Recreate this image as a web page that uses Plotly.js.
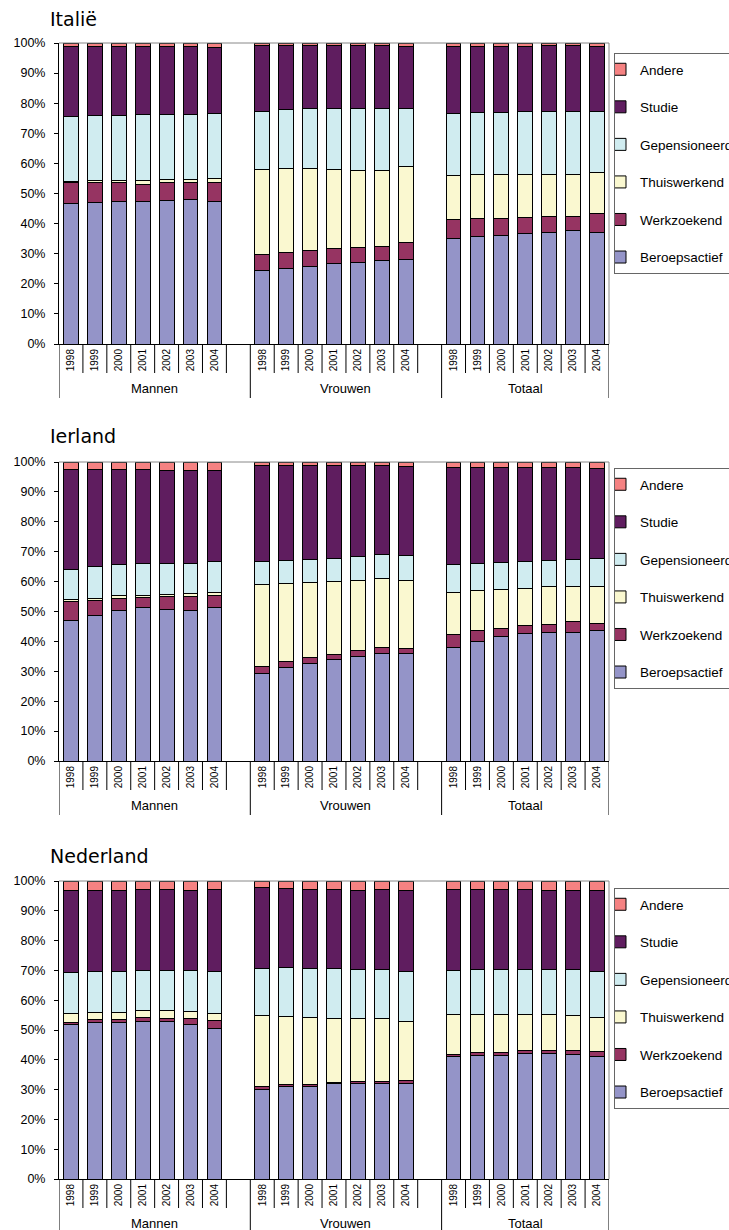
<!DOCTYPE html>
<html><head><meta charset="utf-8">
<script src="https://cdn.plot.ly/plotly-3.0.1.min.js"></script>
<style>html,body{margin:0;padding:0;background:#fff}#chart{width:729px;height:1230px}</style>
</head><body><div id="chart"></div>
<script>
// ---- data ----
const years = ['1998','1999','2000','2001','2002','2003','2004'];
const groups = ['Mannen','Vrouwen','Totaal'];
const seriesNames = ['Beroepsactief','Werkzoekend','Thuiswerkend','Gepensioneerd','Studie','Andere'];
const countries = ['Italië','Ierland','Nederland'];
const yTickVals = [0,10,20,30,40,50,60,70,80,90,100];
const yTickText = ['0%','10%','20%','30%','40%','50%','60%','70%','80%','90%','100%'];

// each array: Mannen 1998-2004, Vrouwen 1998-2004, Totaal 1998-2004 (percent)
const itBeroepsactief = [46.7,47.1,47.2,47.4,47.8,48.1,47.4, 24.4,25.1,25.6,26.6,27.2,27.7,28.0, 35.1,35.6,36.0,36.7,37.1,37.7,37.2];
const itWerkzoekend   = [7.0,6.5,6.4,5.7,5.8,5.5,6.2, 5.4,5.4,5.3,5.0,4.7,4.6,5.8, 6.2,6.1,5.8,5.3,5.3,4.8,6.2];
const itThuiswerkend  = [0.3,0.6,0.8,1.3,1.0,1.1,1.3, 28.2,27.7,27.3,26.4,25.9,25.4,25.2, 14.8,14.7,14.6,14.2,13.8,13.7,13.5];
const itGepensioneerd = [21.6,21.6,21.5,21.7,21.5,21.4,21.6, 19.3,19.7,19.9,20.1,20.3,20.4,19.2, 20.5,20.4,20.5,20.9,21.0,21.0,20.4];
const itStudie        = [23.3,23.1,23.0,22.8,22.8,22.8,22.0, 21.8,21.2,21.0,21.0,21.0,21.0,20.7, 22.2,22.1,22.0,21.8,21.9,21.9,21.4];
const itAndere        = [1.1,1.1,1.1,1.1,1.1,1.1,1.5, 0.9,0.9,0.9,0.9,0.9,0.9,1.1, 1.2,1.1,1.1,1.1,0.9,0.9,1.3];

const ieBeroepsactief = [47.0,48.8,50.5,51.4,50.8,50.2,51.2, 29.2,31.4,32.7,34.0,35.1,36.1,35.8, 38.1,40.1,41.5,42.6,42.9,43.0,43.5];
const ieWerkzoekend   = [6.2,4.9,3.9,3.4,4.2,4.9,4.0, 2.5,1.8,1.9,1.6,1.8,1.9,1.7, 4.2,3.4,2.9,2.6,2.9,3.5,2.5];
const ieThuiswerkend  = [0.8,0.7,0.8,0.7,0.7,1.0,1.0, 27.2,26.3,25.0,24.4,23.5,22.9,23.0, 14.1,13.6,13.0,12.5,12.4,11.9,12.3];
const ieGepensioneerd = [10.1,10.5,10.4,10.4,10.5,10.1,10.4, 7.9,7.7,7.8,7.8,8.0,8.1,8.1, 9.3,9.0,9.0,9.1,9.0,9.0,9.3];
const ieStudie        = [33.3,32.5,31.8,31.5,31.0,30.9,30.5, 32.0,31.6,31.4,31.0,30.4,29.8,30.0, 32.3,31.9,31.6,31.2,30.8,30.6,30.2];
const ieAndere        = [2.6,2.6,2.6,2.6,2.8,2.9,2.9, 1.2,1.2,1.2,1.2,1.2,1.2,1.4, 2.0,2.0,2.0,2.0,2.0,2.0,2.2];

const nlBeroepsactief = [51.9,52.6,52.5,53.0,52.8,51.9,50.6, 30.1,31.0,31.1,31.9,32.1,32.0,31.9, 41.0,41.6,41.5,42.2,42.2,41.7,41.1];
const nlWerkzoekend   = [0.7,0.9,1.0,1.1,1.2,1.8,2.5, 0.8,0.6,0.6,0.5,0.5,0.8,1.2, 0.7,0.9,1.0,0.9,1.0,1.5,1.8];
const nlThuiswerkend  = [3.1,2.5,2.5,2.3,2.4,2.4,2.6, 23.8,22.9,22.5,21.6,21.3,20.9,19.9, 13.5,12.7,12.7,12.0,11.9,11.7,11.3];
const nlGepensioneerd = [13.5,13.6,13.6,13.6,13.6,13.9,13.9, 16.1,16.4,16.4,16.6,16.4,16.6,16.6, 14.9,15.1,15.1,15.2,15.2,15.3,15.6];
const nlStudie        = [27.7,27.3,27.3,27.0,27.0,26.9,27.4, 27.0,26.6,26.7,26.5,26.6,26.7,27.2, 27.2,26.8,26.8,26.7,26.6,26.7,27.1];
const nlAndere        = [3.1,3.1,3.1,3.0,3.0,3.0,3.0, 2.2,2.5,2.7,2.9,3.1,3.0,3.2, 2.7,2.9,2.9,3.0,3.1,3.1,3.1];

const colors = ['#9494C8','#963462','#FAF8D0','#D0ECF0','#5F1D5F','#F58282'];

// ---- layout helpers ----
const W = 729, H = 1230;
const py = px => 1 - px / H;
const plotTop = [43, 462, 881];
const plotBot = [344, 761, 1179];
const legendTop = [53, 468, 888];
const titleY = [19, 436, 856];

const countryData = [
  [itBeroepsactief,itWerkzoekend,itThuiswerkend,itGepensioneerd,itStudie,itAndere],
  [ieBeroepsactief,ieWerkzoekend,ieThuiswerkend,ieGepensioneerd,ieStudie,ieAndere],
  [nlBeroepsactief,nlWerkzoekend,nlThuiswerkend,nlGepensioneerd,nlStudie,nlAndere]
];

// category slot positions: 7 years per group, one empty slot between groups
const slotX = [];
groups.forEach((g, gi) => years.forEach((y, yi) => slotX.push(gi * 8 + yi)));

const FONT = 'Liberation Sans, Arial, sans-serif';
const traces = [];
const layout = {
  width: W, height: H,
  margin: {l: 59, r: 120, t: 0, b: 0, autoexpand: false},
  paper_bgcolor: '#fff', plot_bgcolor: '#fff',
  barmode: 'stack', bargap: 0,
  showlegend: true,
  font: {family: FONT, color: '#000'},
  shapes: [], annotations: []
};

countries.forEach((c, p) => {
  const sfx = p === 0 ? '' : String(p + 1);
  const legName = 'legend' + sfx;
  countryData[p].forEach((vals, si) => {
    traces.push({
      type: 'bar', x: slotX, y: vals, name: seriesNames[si],
      xaxis: 'x' + sfx, yaxis: 'y' + sfx,
      width: 0.62,
      marker: {color: colors[si], line: {color: '#000', width: 1}},
      legend: legName, legendgroup: c + seriesNames[si],
      legendrank: 100 - si,
      hoverinfo: 'skip'
    });
  });
  layout['xaxis' + sfx] = {
    domain: [0, 1], anchor: 'y' + sfx, range: [-0.5, 22.5],
    showline: true, linecolor: '#000', linewidth: 1,
    showgrid: false, zeroline: false, ticks: '',
    tickmode: 'array', tickvals: slotX, ticktext: slotX.map((x, k) => years[k % 7]),
    tickangle: -90, tickfont: {family: FONT, size: 10, color: '#000'}
  };
  layout['yaxis' + sfx] = {
    domain: [py(plotBot[p]), py(plotTop[p])], anchor: 'x' + sfx, range: [0, 100],
    showline: true, linecolor: '#000', linewidth: 1,
    showgrid: false, zeroline: false,
    ticks: 'outside', ticklen: 4, tickcolor: '#000', tickwidth: 1,
    tickmode: 'array', tickvals: yTickVals, ticktext: yTickText,
    ticklabelstandoff: 6,
    tickfont: {family: FONT, size: 12.5, color: '#000'}
  };
  layout[legName] = {
    x: (614 - 59) / 550, xanchor: 'left', y: py(legendTop[p]), yanchor: 'top',
    bordercolor: '#666', borderwidth: 1, bgcolor: '#fff',
    font: {family: FONT, size: 13.5, color: '#000'},
    traceorder: 'grouped', tracegroupgap: 17, indentation: -15
  };
  // plot area border top/right
  layout.shapes.push({type: 'line', xref: 'x' + sfx + ' domain', yref: 'y' + sfx + ' domain', x0: 0, x1: 1, y0: 1, y1: 1, line: {color: '#888', width: 1}});
  layout.shapes.push({type: 'line', xref: 'x' + sfx + ' domain', yref: 'y' + sfx + ' domain', x0: 1, x1: 1, y0: 0, y1: 1, line: {color: '#888', width: 1}});
  // category dividers
  for (let b = -0.5; b <= 22.5; b += 1) {
    const isGroup = (b === -0.5 || b === 7.5 || b === 15.5 || b === 22.5);
    layout.shapes.push({type: 'line', xref: 'x' + sfx, yref: 'paper', x0: b, x1: b,
      y0: py(plotBot[p]), y1: py(plotBot[p] + (isGroup ? 54 : 29)),
      line: {color: '#000', width: 1}});
  }
  // group labels
  groups.forEach((g, gi) => {
    const x0 = gi * 8 - 0.5, x1 = gi === 2 ? 22.5 : gi * 8 + 7.5;
    layout.annotations.push({xref: 'x' + sfx, yref: 'paper', x: (x0 + x1) / 2, y: py(plotBot[p] + 44.5),
      text: g, showarrow: false, xanchor: 'center', yanchor: 'middle',
      font: {family: FONT, size: 13, color: '#000'}});
  });
  // panel title
  layout.annotations.push({xref: 'paper', yref: 'paper', x: (48 - 59) / 550, y: py(titleY[p]),
    text: c, showarrow: false, xanchor: 'left', yanchor: 'middle',
    font: {family: 'DejaVu Sans, sans-serif', size: 19, color: '#000'}});
});

Plotly.newPlot('chart', traces, layout, {staticPlot: true, displayModeBar: false});
</script>
</body></html>
